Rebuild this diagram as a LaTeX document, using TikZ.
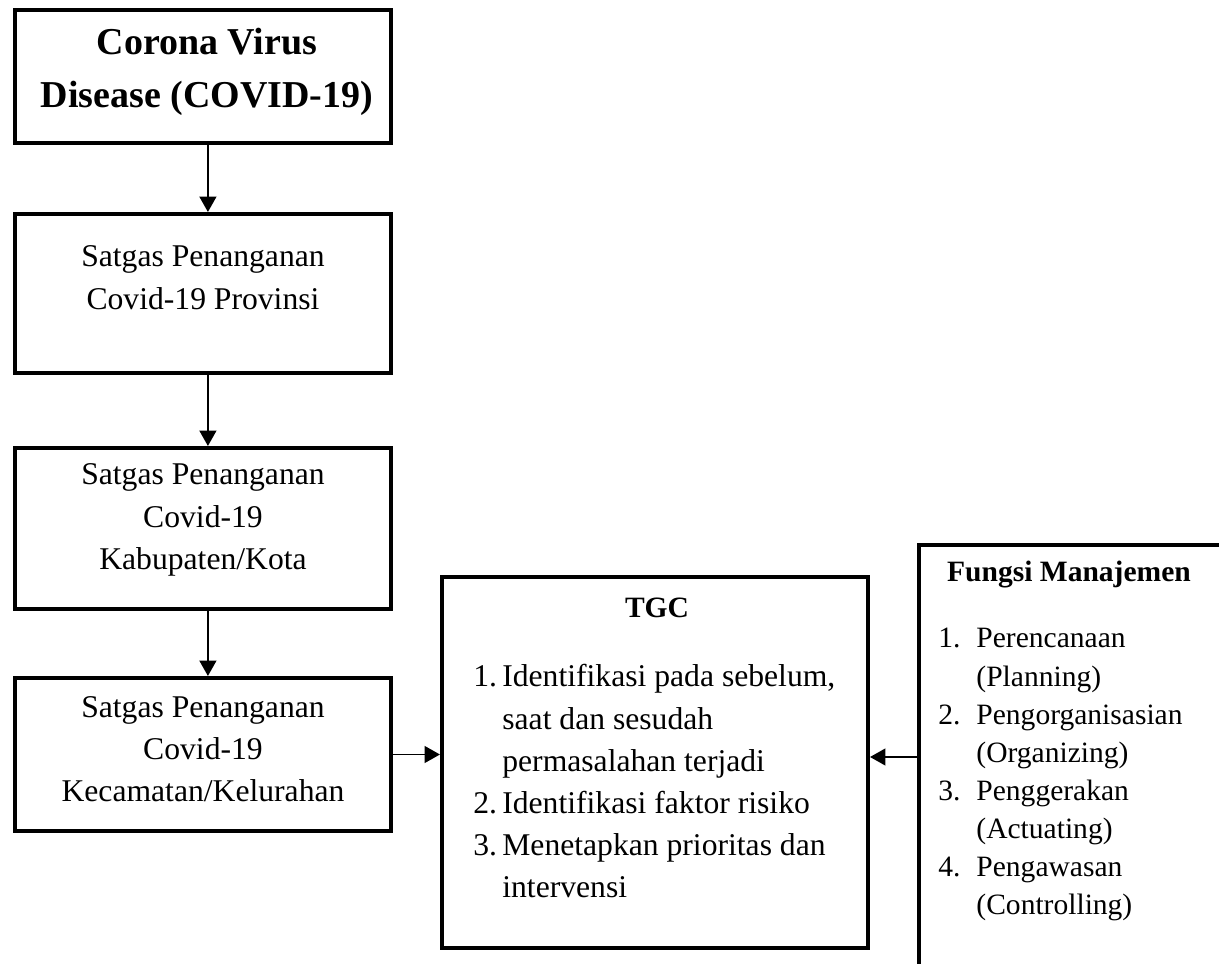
\documentclass[tikz,border=0pt]{standalone}
\usepackage{fontspec}
\setmainfont{Liberation Serif}
\usetikzlibrary{arrows.meta}

\tikzset{
	kotak/.style={draw=black, line width=2.8pt, shape=rectangle, inner sep=0pt},
	teks/.style={inner sep=0pt, anchor=base, font=\fontsize{22.5}{30}\selectfont},
	judul/.style={inner sep=0pt, anchor=base, font=\fontsize{21}{28}\selectfont\bfseries},
	panah/.style={-{Triangle[length=11pt,width=12pt]}, line width=1.4pt},
}

\begin{document}
\begin{tikzpicture}[x=0.025cm, y=-0.025cm]
	\useasboundingbox (0,0) rectangle (1219,964);

	% kotak kiri
	\node[kotak, minimum width=9.4cm, minimum height=3.325cm] (b_1) at (203,76.5) {};
	\node[kotak, minimum width=9.4cm, minimum height=3.975cm] (b_2) at (203,293.5) {};
	\node[kotak, minimum width=9.4cm, minimum height=4.025cm] (b_3) at (203,528.5) {};
	\node[kotak, minimum width=9.4cm, minimum height=3.825cm] (b_4) at (203,754.5) {};

	% kotak TGC dan fungsi manajemen
	\node[kotak, minimum width=10.65cm, minimum height=9.275cm] (tgc) at (655,762.5) {};
	\node[kotak, minimum width=7.65cm, minimum height=10.6cm] (fm) at (1072,757) {};

	% teks
	\node[teks, font=\fontsize{27}{37}\selectfont\bfseries] (t_1) at (207,55) {\begin{tabular}[t]{@{}c@{}}Corona Virus\\Disease (COVID-19)\end{tabular}};
	\node[teks] (t_2) at (203,267) {\begin{tabular}[t]{@{}c@{}}Satgas Penanganan\\Covid-19 Provinsi\end{tabular}};
	\node[teks] (t_3) at (203,485) {\begin{tabular}[t]{@{}c@{}}Satgas Penanganan\\Covid-19\\Kabupaten/Kota\end{tabular}};
	\node[teks] (t_4) at (203,717) {\begin{tabular}[t]{@{}c@{}}Satgas Penanganan\\Covid-19\\Kecamatan/Kelurahan\end{tabular}};

	\node[judul] (tgc_judul) at (657,618) {TGC};
	\node[teks, anchor=base west] (tgc_isi) at (473,687) {\begin{tabular}[t]{@{}l@{\hspace{3.8pt}}l@{}}
		1. & Identifikasi pada sebelum,\\
		   & saat dan sesudah\\
		   & permasalahan terjadi\\
		2. & Identifikasi faktor risiko\\
		3. & Menetapkan prioritas dan\\
		   & intervensi
	\end{tabular}};

	\node[judul] (fm_judul) at (1069,582) {Fungsi Manajemen};
	\node[teks, anchor=base west, font=\fontsize{21}{27.1}\selectfont] (fm_isi) at (938,648) {\begin{tabular}[t]{@{}l@{\hspace{11.4pt}}l@{}}
		1. & Perencanaan\\
		   & (Planning)\\
		2. & Pengorganisasian\\
		   & (Organizing)\\
		3. & Penggerakan\\
		   & (Actuating)\\
		4. & Pengawasan\\
		   & (Controlling)
	\end{tabular}};

	% panah
	\draw[panah] ([xshift=3.5pt]b_1.south) -- ([xshift=3.5pt]b_2.north);
	\draw[panah] ([xshift=3.5pt]b_2.south) -- ([xshift=3.5pt]b_3.north);
	\draw[panah] ([xshift=3.5pt]b_3.south) -- ([xshift=3.5pt]b_4.north);
	\draw[panah] (b_4.east) -- (b_4.east -| tgc.west);
	\draw[panah] (fm.west) -- (fm.west -| tgc.east);
\end{tikzpicture}
\end{document}
